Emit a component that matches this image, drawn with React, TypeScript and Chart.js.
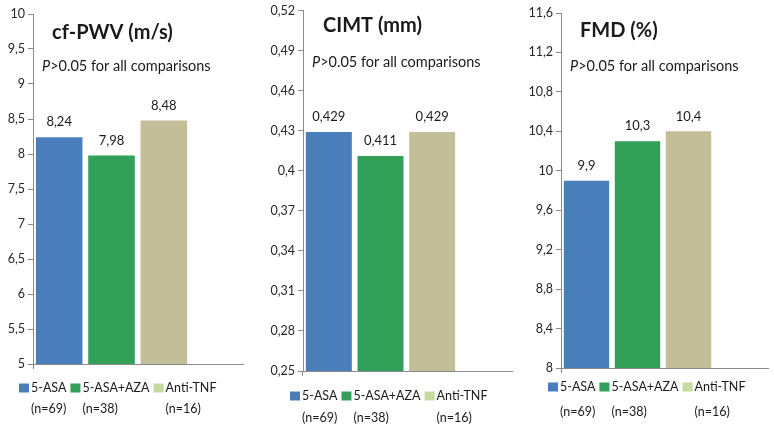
import { useEffect, useRef } from 'react';
import { Chart, registerables } from 'chart.js';

Chart.register(...registerables);
Chart.defaults.font.family = 'Lato';

// ---------- data ----------
const groups = ['5-ASA', '5-ASA+AZA', 'Anti-TNF'];
const groupN = ['(n=69)', '(n=38)', '(n=16)'];

const pwvValues = [8.24, 7.98, 8.48];
const cimtValues = [0.429, 0.411, 0.429];
const fmdValues = [9.9, 10.3, 10.4];

const pwvTicks = [5, 5.5, 6, 6.5, 7, 7.5, 8, 8.5, 9, 9.5, 10];
const cimtTicks = [0.25, 0.28, 0.31, 0.34, 0.37, 0.4, 0.43, 0.46, 0.49, 0.52];
const fmdTicks = [8, 8.4, 8.8, 9.2, 9.6, 10, 10.4, 10.8, 11.2, 11.6];

const panelTitles = ['cf-PWV (m/s)', 'CIMT (mm)', 'FMD (%)'];
const noteItalic = 'P';
const noteRest = '>0.05 for all comparisons';

// ---------- styles ----------
const barColors = ['#4A7EBB', '#33A05A', '#C4BE98'];
const legendColors = ['#4A7EBB', '#33A05A', '#C6D99F'];
const axisColor = '#8a8a8a';
const textColor = '#1a1a1a';
const H = 425;

type Panel = {
  values: number[];
  ticks: number[];
  title: string;
  left: number;
  width: number;
  axisX: number;
  plotRight: number;
  axisEnd: number;
  top: number;
  bottom: number;
  titleX: number;
  titleY: number;
  noteX: number;
  noteY: number;
  legendX: number;
  legendY: number;
  nY: number;
};

const panels: Panel[] = [
  {
    values: pwvValues, ticks: pwvTicks, title: panelTitles[0],
    left: 0, width: 262, axisX: 33, plotRight: 190, axisEnd: 244, top: 14, bottom: 364,
    titleX: 52, titleY: 39, noteX: 42, noteY: 71, legendX: 19, legendY: 388, nY: 409,
  },
  {
    values: cimtValues, ticks: cimtTicks, title: panelTitles[1],
    left: 255, width: 262, axisX: 303, plotRight: 458, axisEnd: 513, top: 6, bottom: 371,
    titleX: 323, titleY: 32, noteX: 312, noteY: 67, legendX: 290, legendY: 396, nY: 418,
  },
  {
    values: fmdValues, ticks: fmdTicks, title: panelTitles[2],
    left: 512, width: 262, axisX: 561, plotRight: 714, axisEnd: 769, top: 13, bottom: 368,
    titleX: 580, titleY: 37, noteX: 570, noteY: 71, legendX: 548, legendY: 387, nY: 412,
  },
];

const fmt = (v: number) => String(Math.round(v * 1000) / 1000).replace('.', ',');

function makeDecor(p: Panel) {
  return {
    id: 'decor',
    afterDraw(chart: any) {
      const ctx: CanvasRenderingContext2D = chart.ctx;
      const area = chart.chartArea;
      ctx.save();
      // extension of the category axis line
      const yLine = Math.round(area.bottom - 0.5) + 0.5;
      ctx.strokeStyle = axisColor;
      ctx.lineWidth = 1;
      ctx.beginPath();
      ctx.moveTo(area.right, yLine);
      ctx.lineTo(p.axisEnd - p.left, yLine);
      ctx.stroke();

      // value labels
      ctx.fillStyle = textColor;
      ctx.font = '13px Lato';
      ctx.textAlign = 'center';
      ctx.textBaseline = 'middle';
      const meta = chart.getDatasetMeta(0);
      meta.data.forEach((bar: any, i: number) => {
        ctx.fillText(fmt(p.values[i]), bar.x, bar.y - 15);
      });

      // title
      ctx.textAlign = 'left';
      ctx.textBaseline = 'alphabetic';
      ctx.font = 'bold 20px Lato';
      ctx.fillText(p.title, p.titleX - p.left, p.titleY);

      // note
      ctx.font = 'italic 14.5px Lato';
      ctx.fillText(noteItalic, p.noteX - p.left, p.noteY);
      const pw = ctx.measureText(noteItalic).width;
      ctx.font = '14.5px Lato';
      ctx.fillText(noteRest, p.noteX - p.left + pw, p.noteY);

      // legend
      ctx.font = '12.5px Lato';
      ctx.textBaseline = 'middle';
      let x = p.legendX - p.left;
      groups.forEach((g, i) => {
        ctx.fillStyle = legendColors[i];
        ctx.fillRect(x, p.legendY - 4.5, 10, 9);
        ctx.fillStyle = textColor;
        const tx = x + 12;
        ctx.fillText(g, tx, p.legendY);
        ctx.fillText(groupN[i], tx, p.nY);
        x = tx + ctx.measureText(g).width + 4;
      });
      ctx.restore();
    },
  };
}

function PanelChart({ p }: { p: Panel }) {
  const ref = useRef<HTMLCanvasElement | null>(null);
  useEffect(() => {
    if (!ref.current) return;
    const chart = new Chart(ref.current, {
      type: 'bar',
      data: {
        labels: groups,
        datasets: [
          {
            data: p.values,
            backgroundColor: barColors,
            borderWidth: 0,
            categoryPercentage: 1,
            barPercentage: 0.89,
          },
        ],
      },
      options: {
        animation: false,
        responsive: false,
        maintainAspectRatio: false,
        events: [],
        layout: {
          padding: { left: 0, right: p.width - (p.plotRight - p.left), top: p.top, bottom: 0 },
        },
        plugins: {
          legend: { display: false },
          tooltip: { enabled: false },
          title: { display: false },
        },
        scales: {
          x: {
            type: 'category',
            offset: true,
            grid: {
              display: true,
              offset: true,
              drawOnChartArea: false,
              drawTicks: true,
              tickLength: 5,
              lineWidth: 1,
              color: (c: any) => (c.index === 0 || c.index === groups.length ? axisColor : 'rgba(0,0,0,0)'),
            },
            border: { display: true, color: axisColor, width: 1 },
            ticks: { display: false },
            afterFit: (s: any) => {
              s.height = H - p.bottom;
            },
          },
          y: {
            type: 'linear',
            min: p.ticks[0],
            max: p.ticks[p.ticks.length - 1],
            afterBuildTicks: (s: any) => {
              s.ticks = p.ticks.map((v) => ({ value: v }));
            },
            grid: {
              display: true,
              drawOnChartArea: false,
              drawTicks: true,
              tickLength: 5,
              color: axisColor,
            },
            border: { display: true, color: axisColor, width: 1 },
            ticks: {
              color: '#262626',
              font: { family: 'Lato', size: 12.5 },
              padding: 3,
              callback: (v: any) => fmt(Number(v)),
            },
            afterFit: (s: any) => {
              s.width = p.axisX - p.left;
            },
          },
        },
      },
      plugins: [makeDecor(p)],
    } as any);
    return () => chart.destroy();
  }, [p]);
  return (
    <canvas
      ref={ref}
      width={p.width}
      height={H}
      style={{ position: 'absolute', left: p.left, top: 0, width: p.width, height: H }}
    />
  );
}

export default function App() {
  return (
    <div style={{ position: 'fixed', left: 0, top: 0, width: 774, height: H, background: '#fff', overflow: 'hidden' }}>
      {panels.map((p, i) => (
        <PanelChart key={i} p={p} />
      ))}
    </div>
  );
}
